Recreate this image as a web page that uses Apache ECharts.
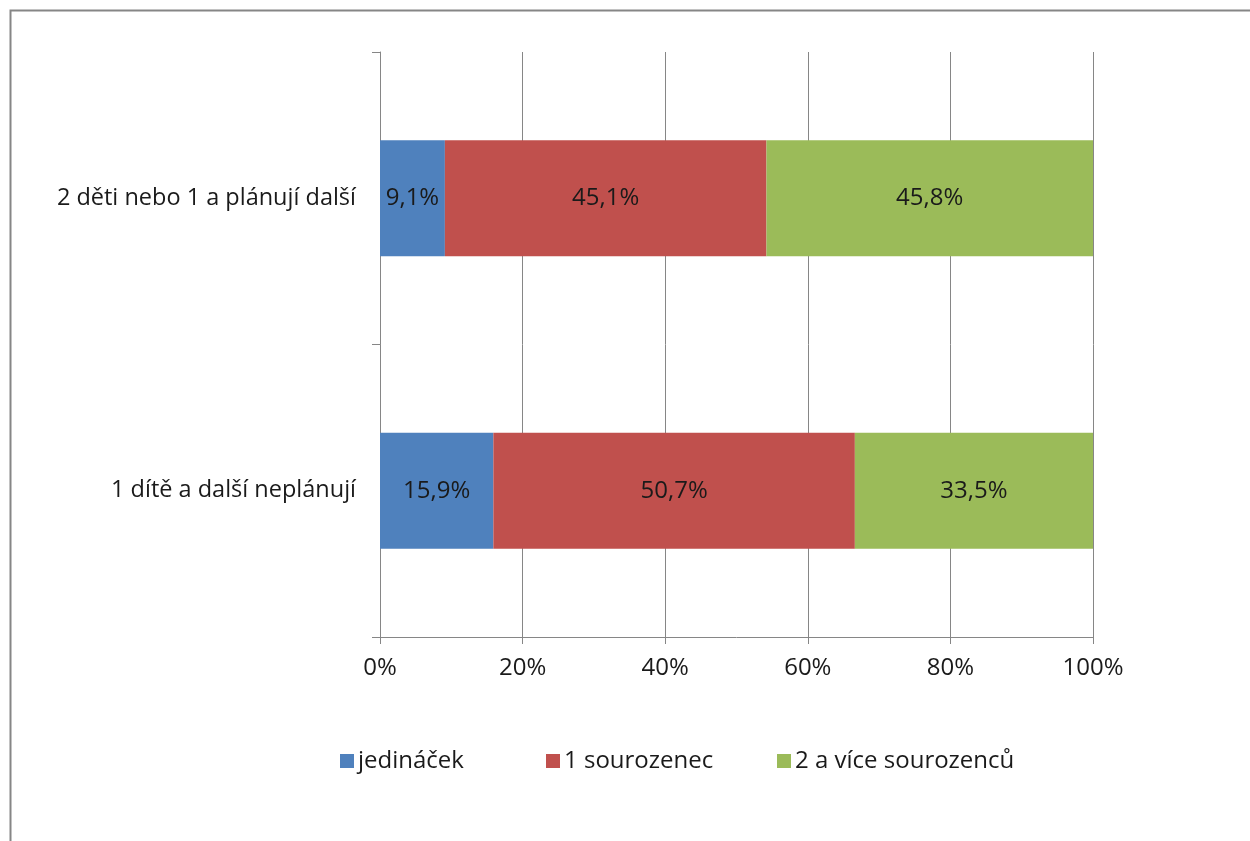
<!DOCTYPE html>
<html>
<head>
<meta charset="utf-8">
<script src="https://cdn.jsdelivr.net/npm/echarts@6/dist/echarts.min.js"></script>
<style>
html,body{margin:0;padding:0;background:#fff;}
#c{width:1250px;height:841px;}
</style>
</head>
<body>
<div id="c"></div>
<script>
const categories = ['1 dítě a další neplánují', '2 děti nebo 1 a plánují další'];
const seriesNames = ['jedináček', '1 sourozenec', '2 a více sourozenců'];
const jedinacek = [15.9, 9.1];
const sourozenec1 = [50.7, 45.1];
const sourozencu2 = [33.5, 45.8];
const xTicks = [0, 20, 40, 60, 80, 100];
const colors = ['#4F81BD', '#C0504D', '#9BBB59'];

const FONT = '"Open Sans", sans-serif';
const TXT = '#1a1a1a';
const chart = echarts.init(document.getElementById('c'));
const values = [jedinacek, sourozenec1, sourozencu2];
const legendLefts = [335, 541, 772];
chart.setOption({
  animation: false,
  color: colors,
  textStyle: { fontFamily: FONT },
  grid: { left: 380, right: 157, top: 52, bottom: 204, containLabel: false },
  graphic: [{
    type: 'rect', left: 8, top: 8,
    shape: { width: 1260, height: 860 },
    style: { fill: 'none', stroke: '#868686', lineWidth: 2 },
    silent: true
  }],
  legend: seriesNames.map((n, i) => ({
    top: 744, left: legendLefts[i],
    itemWidth: 14, itemHeight: 14, itemGap: 0,
    icon: 'rect',
    textStyle: { fontSize: 24, color: TXT, fontFamily: FONT, padding: [0, 0, 0, -1] },
    data: [n]
  })),
  xAxis: {
    type: 'value', min: 0, max: 100, interval: 20,
    axisLine: { show: true, lineStyle: { color: '#868686', width: 1 } },
    axisTick: { show: true, length: 7, lineStyle: { color: '#868686' } },
    splitLine: { show: true, lineStyle: { color: '#868686', width: 1 } },
    axisLabel: { fontSize: 24, color: TXT, margin: 19, fontFamily: FONT,
      formatter: v => xTicks.includes(v) ? v + '%' : '' }
  },
  yAxis: {
    type: 'category', data: categories,
    axisLine: { show: true, lineStyle: { color: '#868686', width: 1 } },
    axisTick: { show: true, length: 8, inside: false, lineStyle: { color: '#868686' } },
    axisLabel: { fontSize: 23.5, color: TXT, margin: 24, fontFamily: FONT }
  },
  series: values.map((arr, i) => ({
    name: seriesNames[i], type: 'bar', stack: 'total',
    barWidth: 116,
    data: arr,
    label: { show: true, position: 'inside', fontSize: 24, color: TXT, fontFamily: FONT,
      formatter: p => p.value.toFixed(1).replace('.', ',') + '%' }
  }))
});
</script>
</body>
</html>
